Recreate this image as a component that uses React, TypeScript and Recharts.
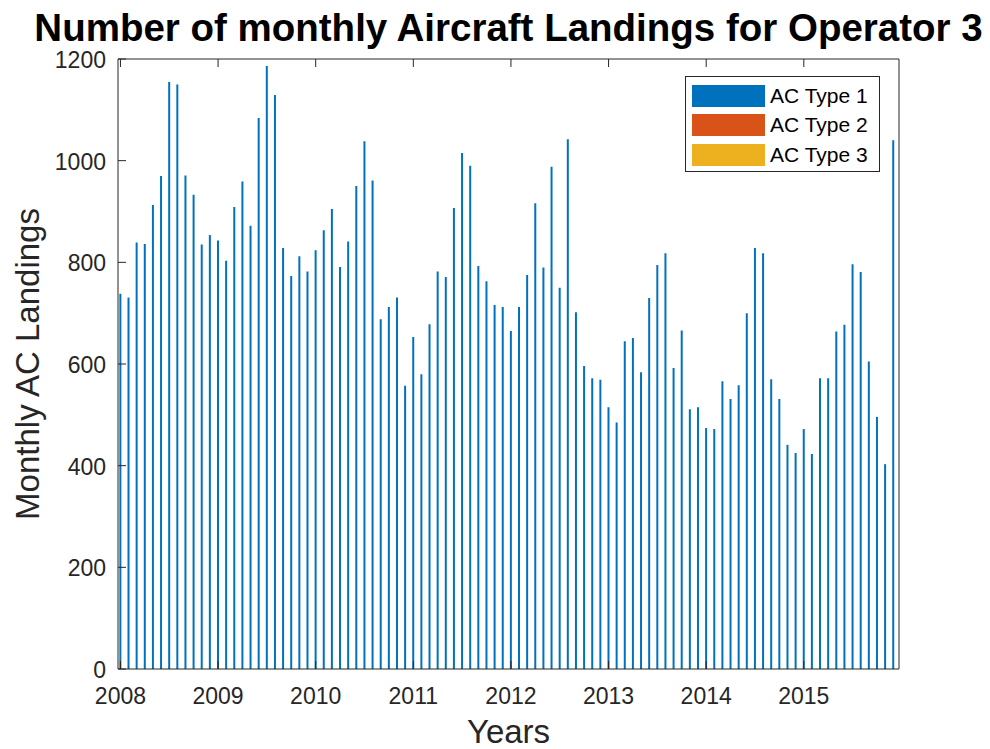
import { BarChart, Bar, XAxis, YAxis, Legend } from 'recharts'

// monthly landings, Jan 2008 .. Dec 2015
const YEARS = ['2008', '2009', '2010', '2011', '2012', '2013', '2014', '2015']

const AC_TYPE_1 = [
  738, 731, 839, 836, 913, 970, 1155, 1150, 971, 933, 835, 854,
  843, 803, 909, 959, 872, 1084, 1186, 1129, 828, 773, 812, 782,
  824, 863, 905, 791, 841, 950, 1038, 961, 688, 712, 731, 557,
  653, 580, 678, 782, 771, 907, 1015, 990, 793, 763, 716, 712,
  665, 712, 775, 916, 790, 988, 750, 1042, 702, 596, 572, 569,
  515, 485, 645, 651, 584, 730, 795, 818, 592, 666, 511, 515,
  474, 472, 566, 531, 558, 700, 828, 818, 570, 531, 441, 425,
  472, 423, 572, 572, 664, 677, 796, 781, 605, 496, 403, 1040,
]

const SERIES = [
  { name: 'AC Type 1', color: '#0072BD' },
  { name: 'AC Type 2', color: '#D95319' },
  { name: 'AC Type 3', color: '#EDB120' },
]

const Y_TICKS = [0, 200, 400, 600, 800, 1000, 1200]
const YEAR_TICKS = YEARS.map((_, i) => i * 12)

const data = AC_TYPE_1.map((v, i) => ({ month: i, type1: v }))

const AXIS = '#262626'
const FONT = '"Liberation Sans", Arial, Helvetica, sans-serif'
const TICK_LEN = 8

function BottomTick({ x, y, payload }: any) {
  return (
    <g>
      <line x1={x} x2={x} y1={y} y2={y - TICK_LEN} stroke={AXIS} />
      <text x={x} y={y + 35} textAnchor="middle" fontSize={23} fill={AXIS} fontFamily={FONT}>
        {YEARS[payload.value / 12]}
      </text>
    </g>
  )
}

function TopTick({ x, y }: any) {
  return <line x1={x} x2={x} y1={y} y2={y + TICK_LEN} stroke={AXIS} />
}

function LeftTick({ x, y, payload }: any) {
  return (
    <g>
      <line x1={x} x2={x + TICK_LEN} y1={y} y2={y} stroke={AXIS} />
      <text x={x - 12} y={y + 9} textAnchor="end" fontSize={23} fill={AXIS} fontFamily={FONT}>
        {payload.value}
      </text>
    </g>
  )
}

function RightTick({ x, y }: any) {
  return <line x1={x} x2={x - TICK_LEN} y1={y} y2={y} stroke={AXIS} />
}

function LegendBox() {
  return (
    <div
      style={{
        border: '1px solid #262626',
        background: '#fff',
        width: 193,
        height: 89,
        padding: '4px 0 1px 0',
        fontFamily: FONT,
        fontSize: 21,
        color: '#000',
      }}
    >
      {SERIES.map((s) => (
        <div key={s.name} style={{ display: 'flex', alignItems: 'center', height: 29.5 }}>
          <div style={{ width: 73, height: 22, background: s.color, marginLeft: 6, marginRight: 5 }} />
          <span>{s.name}</span>
        </div>
      ))}
    </div>
  )
}

export default function App() {
  return (
    <div style={{ position: 'absolute', left: 0, top: 0, width: 990, height: 749, background: '#fff' }}>
      <BarChart width={990} height={749} data={data} margin={{ top: 58, right: 90, bottom: 50, left: 58 }}>
        <XAxis
          dataKey="month"
          type="number"
          domain={[-0.3, 95.7]}
          allowDataOverflow
          ticks={YEAR_TICKS}
          interval={0}
          height={30}
          tickSize={0}
          tickMargin={0}
          tickLine={false}
          tick={<BottomTick />}
          axisLine={{ stroke: AXIS }}
          label={{
            content: ({ viewBox }: any) => (
              <text
                x={viewBox.x + viewBox.width / 2}
                y={743}
                textAnchor="middle"
                fontSize={33}
                fill={AXIS}
                fontFamily={FONT}
              >
                Years
              </text>
            ),
          }}
        />
        <XAxis
          xAxisId="top"
          orientation="top"
          dataKey="month"
          type="number"
          domain={[-0.3, 95.7]}
          allowDataOverflow
          ticks={YEAR_TICKS}
          interval={0}
          height={1}
          tickSize={0}
          tickMargin={0}
          tickLine={false}
          tick={<TopTick />}
          axisLine={{ stroke: AXIS }}
          label={{
            content: ({ viewBox }: any) => (
              <text
                x={viewBox.x + viewBox.width / 2}
                y={41}
                textAnchor="middle"
                fontSize={38.5}
                fontWeight="bold"
                fill="#000"
                fontFamily={FONT}
              >
                Number of monthly Aircraft Landings for Operator 3
              </text>
            ),
          }}
        />
        <YAxis
          domain={[0, 1200]}
          ticks={Y_TICKS}
          interval={0}
          width={60}
          tickSize={0}
          tickMargin={0}
          tickLine={false}
          tick={<LeftTick />}
          axisLine={{ stroke: AXIS }}
          label={{
            content: ({ viewBox }: any) => (
              <text
                x={39}
                y={viewBox.y + viewBox.height / 2}
                transform={`rotate(-90, 39, ${viewBox.y + viewBox.height / 2})`}
                textAnchor="middle"
                fontSize={33}
                fill={AXIS}
                fontFamily={FONT}
              >
                Monthly AC Landings
              </text>
            ),
          }}
        />
        <YAxis
          yAxisId="right"
          orientation="right"
          domain={[0, 1200]}
          ticks={Y_TICKS}
          interval={0}
          width={1}
          tickSize={0}
          tickMargin={0}
          tickLine={false}
          tick={<RightTick />}
          axisLine={{ stroke: AXIS }}
        />
        <Legend
          layout="vertical"
          align="center"
          verticalAlign="middle"
          wrapperStyle={{ left: 685, top: 76, width: 195 }}
          content={() => <LegendBox />}
        />
        <Bar dataKey="type1" name="AC Type 1" fill="#0072BD" barSize={2} isAnimationActive={false} />
      </BarChart>
    </div>
  )
}
